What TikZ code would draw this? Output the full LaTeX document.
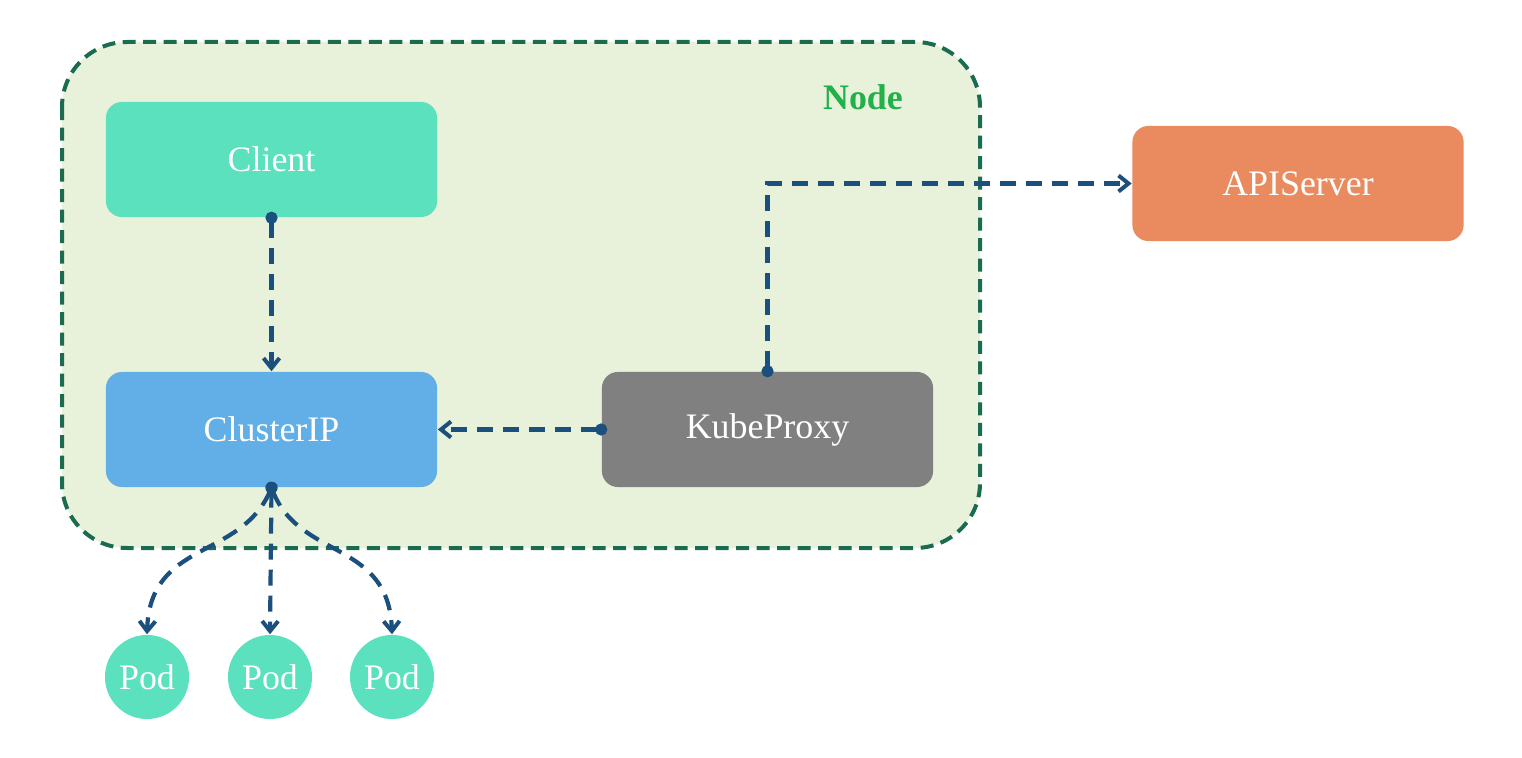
\documentclass[tikz,border=0pt]{standalone}
\usepackage{fontspec}
\setmainfont{Liberation Serif}
\usetikzlibrary{arrows.meta}
\definecolor{hostfill}{HTML}{E8F2DA}
\definecolor{hostline}{HTML}{1A6B4F}
\definecolor{hosttext}{HTML}{22B04B}
\definecolor{tealbox}{HTML}{5CE1BE}
\definecolor{bluebox}{HTML}{62AEE6}
\definecolor{greybox}{HTML}{808080}
\definecolor{orangebox}{HTML}{EA8A5F}
\definecolor{linkblue}{HTML}{1B4F7E}
\newcommand{\lbl}{\fontsize{10.2}{12}\selectfont}

\tikzset{
	box/.style={rounded corners=0.16cm, minimum width=3.31cm, minimum height=1.15cm, text=white, font=\lbl},
	pod/.style={circle, fill=tealbox, minimum size=0.84cm, inner sep=0pt, text=white, font=\lbl},
	link/.style={draw=linkblue, line width=0.042cm, dash pattern=on 0.16cm off 0.1cm, shorten <=-0.06cm,
		{Circle[length=0.12cm]}-{Straight Barb[length=0.1cm,width=0.16cm,line width=0.04cm]}}
}

\begin{document}
\begin{tikzpicture}[x=0.01cm,y=-0.01cm]
			\useasboundingbox (0,0) rectangle (1522,758);
			\draw[fill=hostfill, draw=hostline, line width=0.04cm, dash pattern=on 0.13cm off 0.075cm, rounded corners=0.65cm] (62,42) rectangle (980,548);
			\node[text=hosttext, font=\lbl\bfseries] (hostlabel) at (863,97) {Node};
			
			\node[box, fill=tealbox] (client) at (271.5,159.5) {Client};
			\node[box, fill=bluebox] (clusterip) at (271.5,429.5) {ClusterIP};
			\node[box, fill=greybox] (kubeproxy) at (767.5,429.5) {KubeProxy};
			\node[box, fill=orangebox] (apiserver) at (1298,183.5) {APIServer};
			
			\node[pod] (pod1) at (147,677) {Pod};
			\node[pod] (pod2) at (270,677) {Pod};
			\node[pod] (pod3) at (392,677) {Pod};
			
			\draw[link] (client.south) -- (clusterip.north);
			\draw[link] (kubeproxy.west) -- (clusterip.east);
			\draw[link] (kubeproxy.north) |- (apiserver.west);
			\draw[link] (clusterip.south) .. controls (240,560) and (150,540) .. (pod1.north);
			\draw[link] (clusterip.south) -- (pod2.north);
			\draw[link] (clusterip.south) .. controls (300,560) and (389,540) .. (pod3.north);
		\end{tikzpicture}
\end{document}
